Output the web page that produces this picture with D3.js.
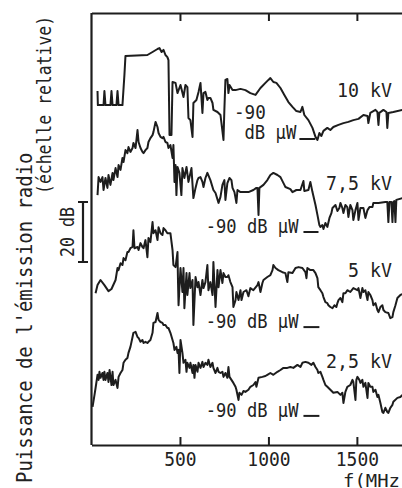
<!DOCTYPE html>
<html>
<head>
<meta charset="utf-8">
<script src="https://cdn.jsdelivr.net/npm/d3@7"></script>
<style>
  body { margin: 0; background: #fff; }
  svg { display: block; }
  text { font-family: "DejaVu Sans Mono", monospace; fill: #222; }
</style>
</head>
<body>
<div id="chart"></div>
<script>
// frequence (MHz) / niveau (dB au-dessus de -90 dBµW)
var xTicks = [500, 1000, 1500];
var voltages = ["10 kV", "7,5 kV", "5 kV", "2,5 kV"];
var refLevels = [102, 71, 39.3, 9.7];          // position du niveau -90 dBµW sur l'echelle relative
var refMarks = [[1175, 1265], [1198, 1283], [1198, 1288], [1198, 1288]];
var scaleBar = [61, 81];                         // 20 dB

var spec10 = [[34,16],[36,11.3],[68,11.3],[73,16],[79,11.3],[107,11.3],[113,16],[119,11.3],[141,11.3],[147,16],[153,11.3],
  [175,11.3],[186,21.3],[192,27.7],[316,28],[345,29],[373,30],[384,30.3],[396,29],[407,29.7],[418,28],[429,27.3],[435,26.3],
  [441,1.3],[452,1.3],[458,19],[475,18.7],[486,15.3],[503,18],[520,14],[531,18],[542,17.3],[548,7],[559,6.3],[571,0.7],
  [576,12],[593,13],[605,15.7],[616,18.7],[627,8.7],[633,15.3],[644,15.7],[655,13],[661,13.7],[672,13.7],[684,12],[689,9.7],
  [712,9],[729,8],[746,-0.3],[751,9.7],[757,19.7],[768,20],[774,15.3],[780,18],[797,16.3],[814,16.3],[842,16.7],[870,16.3],
  [898,15.3],[927,14.7],[955,17],[983,18.7],[1000,19.7],[1011,20.3],[1028,19],[1045,18.7],[1068,17],[1090,14.7],[1113,12.3],
  [1136,10.7],[1158,9.3],[1181,9],[1192,10.7],[1203,8],[1226,6.3],[1249,3.7],[1266,0.7],[1277,-0.3],[1288,2],[1299,1],
  [1311,2.7],[1333,3.7],[1350,3],[1367,4],[1396,4.7],[1424,5.3],[1452,5.7],[1480,6.3],[1509,6.7],[1537,8],[1560,7.7],
  [1565,5.3],[1576,8.7],[1605,9.7],[1616,9],[1622,4.7],[1627,8.7],[1650,9.7],[1667,9],[1672,3.7],[1678,8.7],[1706,9],[1757,9.7]];

var spec75 = [[34,12.3],[40,18.3],[51,16.7],[62,18.3],[68,14],[79,18],[90,14.7],[96,19],[107,15.7],[119,19.7],[124,17.3],
  [136,21.3],[147,18.3],[153,22.3],[164,20.7],[175,24.7],[181,23.3],[192,27.3],[203,26.3],[209,28.3],[220,26.7],[232,28],
  [237,29.7],[249,28],[260,34],[266,30],[277,28],[288,26.7],[294,26.3],[305,27.3],[316,28],[322,30],[333,31.3],[345,32.3],
  [350,33.3],[362,36.7],[373,35],[379,33],[390,31.7],[401,31.3],[407,31.7],[418,30],[429,29.7],[435,28],[446,29],[458,24.7],
  [463,29],[469,16.7],[475,22.3],[480,12.3],[486,21.7],[497,19.7],[508,12.3],[514,21.3],[525,18],[537,21.7],[548,16.7],
  [554,18.3],[565,21.3],[576,11.3],[588,14.7],[599,17.3],[605,18],[616,18.3],[627,16.7],[633,15],[644,18],[655,19.7],
  [672,17.3],[689,14],[701,13],[718,9.7],[729,11.7],[740,15.7],[751,17.3],[757,10.7],[768,16.3],[780,18],[791,17.3],
  [797,14.7],[808,13.3],[819,9.7],[825,14],[842,13.3],[859,13.3],[887,13.3],[915,14],[932,14.7],[938,14.7],[944,5.7],
  [949,14.7],[972,15.7],[994,17.3],[1011,19],[1028,19.7],[1051,19],[1068,18.3],[1090,15.7],[1096,15],[1124,14.3],[1136,13.3],
  [1158,14],[1181,14],[1198,17],[1203,13.7],[1226,14],[1237,16.7],[1249,13.3],[1266,9],[1277,5.7],[1288,2.3],[1294,1.7],
  [1305,2.3],[1311,1],[1322,3],[1333,1.7],[1345,4.7],[1356,6.3],[1362,8],[1379,9],[1390,7],[1401,8],[1407,9.7],[1418,8],
  [1424,6.3],[1435,9],[1446,8.3],[1452,5],[1463,9],[1475,7.3],[1480,4],[1492,7.3],[1503,9.7],[1509,4],[1520,8],[1537,8],
  [1548,4.7],[1560,7.3],[1571,8.3],[1588,8.3],[1593,9.7],[1622,9.7],[1661,10],[1672,10],[1678,3.3],[1684,10],[1695,10],
  [1701,3.3],[1706,10],[1712,10.3],[1718,3.3],[1723,10.7],[1757,11.3]];

var spec5 = [[23,11.3],[34,14],[51,15.7],[73,14],[96,12],[113,12.7],[136,15.7],[147,19.7],[153,19],[164,21.3],[175,20.7],
  [181,23],[192,22.3],[203,25],[209,25],[220,26.3],[232,26.7],[237,32.3],[243,26.3],[260,26.7],[266,25.7],[277,28],[288,26.7],
  [294,26.3],[305,29],[316,23.3],[322,29.7],[333,28.3],[345,35],[350,31.3],[362,32.3],[373,29],[379,33.3],[390,31.3],
  [401,30.7],[407,33],[418,32.3],[429,31.3],[446,31.3],[458,25.7],[463,20.7],[475,20],[486,25],[489,15],[492,7.3],[503,19.7],
  [514,11.7],[520,19.7],[525,6.3],[537,18],[542,10.7],[554,18],[559,13],[571,15.7],[576,0.7],[588,16.7],[599,13.3],[605,15],
  [616,10.7],[627,15.7],[633,13],[644,15],[655,20.7],[661,12.3],[672,15],[684,10.7],[689,21.7],[701,6.7],[712,19],[718,13.3],
  [729,19],[740,14.7],[746,18],[757,16.7],[768,16.7],[774,17.3],[785,15],[797,13.3],[802,6.7],[814,9],[819,11.7],[831,9],
  [842,12.3],[848,9],[859,11.7],[876,12.3],[887,10.3],[898,13],[915,12.3],[938,14],[944,15],[955,11.7],[966,14.7],[972,15.7],
  [994,16.7],[1011,17.3],[1023,19],[1028,20.7],[1040,19.7],[1056,19],[1079,18.3],[1096,18],[1107,15],[1113,18.3],[1136,18],
  [1153,19.7],[1170,20],[1192,19.7],[1209,18.3],[1215,16.3],[1220,19.7],[1237,19],[1254,19],[1266,18],[1277,16.3],[1282,13.3],
  [1294,12.3],[1305,11.3],[1311,10],[1322,8.3],[1333,8],[1339,7.3],[1350,6.7],[1362,6.3],[1373,7.3],[1384,6.7],[1390,8],
  [1396,9],[1407,9.7],[1418,8.3],[1424,11.3],[1435,11.3],[1446,12.3],[1463,11.7],[1480,13],[1503,12.3],[1509,13],[1520,9.7],
  [1531,13],[1537,11.7],[1548,12.3],[1560,9],[1565,11.7],[1576,10.7],[1588,9],[1593,7.3],[1605,8],[1616,5.7],[1622,5],
  [1633,6.7],[1644,7.3],[1650,5.7],[1661,5],[1678,4.7],[1689,3],[1701,3.3],[1706,5],[1718,7.3],[1729,9.7],[1746,10.7],[1757,11]];

var spec25 = [[6,3],[17,7],[23,9.3],[34,13.7],[40,12],[45,14.7],[51,12.7],[62,14.3],[68,12],[73,14.7],[79,12],[90,14.3],
  [96,11.3],[102,15.3],[113,10.3],[119,14.7],[124,10.3],[136,12],[147,9.3],[153,13],[164,14.3],[175,15.3],[181,17.7],
  [192,18.7],[203,19.3],[209,21],[220,23],[232,26.3],[237,27.7],[249,28],[260,26.3],[266,26],[277,24.7],[288,25.3],[294,24.3],
  [305,24.7],[316,24.3],[322,24.7],[333,25.3],[345,27.7],[350,31],[362,31.3],[373,34.3],[379,32],[390,31.3],[401,31],
  [407,30.3],[418,30.3],[429,29.3],[435,29.3],[446,27.7],[458,25.3],[463,24.3],[469,22],[480,23],[486,21],[492,22],[497,14.3],
  [503,25.3],[514,21],[520,17.7],[531,18.7],[537,14.7],[542,17.7],[554,16],[559,17.7],[571,14.3],[576,17],[582,12.7],[588,17],
  [599,14.7],[605,17.7],[616,16],[627,18],[633,16.3],[644,17.7],[655,17],[661,18.7],[672,16.3],[684,17.7],[689,16],[701,14.3],
  [712,16],[718,14.7],[729,14.3],[740,14.7],[746,13],[757,14.3],[768,12.7],[774,16.3],[780,13],[791,12],[802,11],[814,9.7],
  [819,8.7],[831,5.3],[836,7.7],[848,7],[859,8.3],[870,8],[887,8.7],[898,9.7],[915,10.3],[927,11.3],[932,9.7],[944,12.7],
  [966,13],[983,13.3],[994,13.7],[1011,14.3],[1028,13.7],[1051,14.7],[1068,15.3],[1085,16],[1107,16],[1124,16.3],[1141,16],
  [1164,17],[1181,16.3],[1192,17.7],[1209,18],[1226,17.7],[1243,17],[1254,17.7],[1266,16.3],[1277,15.3],[1282,14.3],
  [1294,14.7],[1305,13],[1311,12],[1322,10.3],[1333,9.7],[1350,8.7],[1367,7.7],[1390,8],[1407,7],[1418,7.7],[1424,4.3],
  [1435,8],[1446,9.7],[1463,10.3],[1475,12],[1480,11.3],[1492,5.3],[1497,12],[1503,13],[1514,12],[1520,11],[1531,12],
  [1537,9.7],[1548,11],[1560,6],[1565,11],[1576,9.7],[1588,9.7],[1593,8],[1605,8.7],[1616,6.3],[1622,7],[1633,4.3],
  [1644,1.3],[1650,1],[1661,2.7],[1672,1.3],[1678,1],[1689,2.7],[1701,3.7],[1706,4.7],[1729,6],[1746,6.3],[1757,7]];

var spectra = [spec10, spec75, spec5, spec25];

var w = 402, h = 488;
var ink = "#1d1d1d";
var svg = d3.select("#chart").append("svg").attr("width", w).attr("height", h);

var x = d3.scaleLinear().domain([0, 1755]).range([91.5, 402]);
var y = d3.scaleLinear().domain([0, 144]).range([445, 13]);

// largeur fixe des caracteres (police etroite de l'original)
function fit(sel, perChar) {
    sel.each(function () {
        var t = d3.select(this);
        var n = t.text().length;
        t.attr("textLength", n * perChar).attr("lengthAdjust", "spacingAndGlyphs");
    });
}
// texte vertical, compresse par une echelle plutot que textLength
function vtext(tx, ty, size, perChar, str, anchor) {
    var k = perChar / (0.602 * size);
    return svg.append("text")
        .attr("transform", "translate(" + tx + "," + ty + ") rotate(-90) scale(" + k + ",1)")
        .attr("text-anchor", anchor || "start").attr("font-size", size).text(str);
}

// cadre
svg.append("line").attr("x1", x(0)).attr("x2", x(0)).attr("y1", y(144)).attr("y2", y(0))
    .attr("stroke", ink).attr("stroke-width", 2.2);

var axBottom = svg.append("g").attr("transform", "translate(0," + y(0) + ")")
    .call(d3.axisBottom(x).tickValues(xTicks).tickFormat(d3.format("d")).tickSize(-8).tickSizeOuter(0).tickPadding(8));
var axTop = svg.append("g").attr("transform", "translate(0," + y(144) + ")")
    .call(d3.axisTop(x).tickValues(xTicks).tickSize(-8).tickSizeOuter(0).tickFormat(""));
[axBottom, axTop].forEach(function (g) {
    g.select(".domain").attr("stroke", ink).attr("stroke-width", 2.2);
    g.selectAll(".tick line").attr("stroke", ink).attr("stroke-width", 2);
});
axBottom.selectAll(".tick text").attr("font-size", 19).attr("font-family", "DejaVu Sans Mono").attr("fill", "#222")
    .call(fit, 10.8);

svg.append("text").attr("x", 343).attr("y", 487).attr("font-size", 18).text("f(MHz)").call(fit, 11.4);

// courbes
var line = d3.line();
spectra.forEach(function (s, i) {
    line.x(function (d) { return x(d[0]); }).y(function (d) { return y(refLevels[i] + d[1]); });
    svg.append("path").attr("d", line(s)).attr("fill", "none").attr("stroke", ink)
        .attr("stroke-width", 2).attr("stroke-linejoin", "round");

    // repere -90 dBµW
    svg.append("line").attr("x1", x(refMarks[i][0])).attr("x2", x(refMarks[i][1]))
        .attr("y1", y(refLevels[i])).attr("y2", y(refLevels[i])).attr("stroke", ink).attr("stroke-width", 2);
});

// etiquettes de tension
var labelDy = [-42, -42, -50, -48];
voltages.forEach(function (v, i) {
    svg.append("text").attr("x", 392).attr("y", y(refLevels[i]) + labelDy[i]).attr("text-anchor", "end")
        .attr("font-size", 20).text(v).call(fit, 11);
});

// etiquettes -90 dB µW
svg.append("text").attr("x", 234).attr("y", y(refLevels[0]) - 20).attr("font-size", 19).text("-90").call(fit, 10.6);
svg.append("text").attr("x", x(refMarks[0][0]) - 3).attr("y", y(refLevels[0])).attr("text-anchor", "end")
    .attr("font-size", 19).text("dB µW").call(fit, 10.4);
for (var i = 1; i < 4; i++) {
    svg.append("text").attr("x", x(refMarks[i][0]) - 5).attr("y", y(refLevels[i]) + 1).attr("text-anchor", "end")
        .attr("font-size", 20).text("-90 dB µW").call(fit, 10.3);
}

// barre d'echelle 20 dB
var bx = 83;
svg.append("line").attr("x1", bx).attr("x2", bx).attr("y1", y(scaleBar[0])).attr("y2", y(scaleBar[1]))
    .attr("stroke", ink).attr("stroke-width", 2.2);
scaleBar.forEach(function (v) {
    svg.append("line").attr("x1", bx - 5).attr("x2", bx + 5).attr("y1", y(v)).attr("y2", y(v))
        .attr("stroke", ink).attr("stroke-width", 2);
});
vtext(74, y((scaleBar[0] + scaleBar[1]) / 2), 19, 10, "20 dB", "middle");

// titre de l'axe vertical
vtext(32, 483, 21, 11.4, "Puissance de l'émission radio");
vtext(51, 194, 20, 9.9, "(échelle relative)");
</script>
</body>
</html>
